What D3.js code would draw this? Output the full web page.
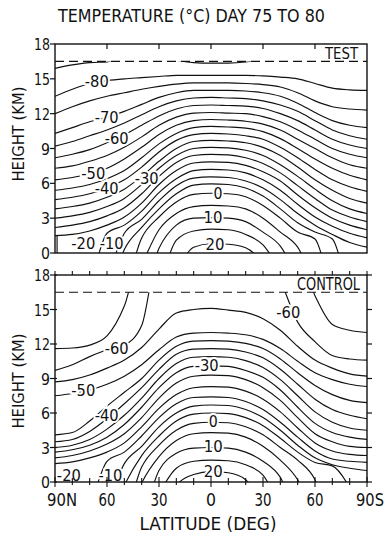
<!DOCTYPE html>
<html><head><meta charset="utf-8">
<script src="https://cdn.jsdelivr.net/npm/d3@7"></script>
<style>body{margin:0;background:#fff}svg{display:block}</style>
</head><body>
<script>
// Latitude columns, 90N (left) to 90S (right); south is negative
const latitudes = [90,80,70,60,50,40,30,20,10,0,-10,-20,-30,-40,-50,-60,-70,-80,-90];
// Isotherm levels (deg C)
const levels = [-85,-80,-75,-70,-65,-60,-55,-50,-45,-40,-35,-30,-25,-20,-15,-10,-5,0,5,10,15,20];
// Height (km) of each isotherm at each latitude
const testHeights = [
  [15.9,16.2,16.4,16.45,17.2,17.5,17,16.6,16.4,16.35,16.35,16.45,16.7,17.2,17.5,17.5,17.5,17.5,17.5],
  [13.5,14.1,14.6,14.85,15.0,15.1,15.2,15.3,15.3,15.3,15.3,15.3,15.25,15.15,15.0,14.6,14.2,14.05,14.0],
  [12.0,12.6,13.1,13.5,13.8,14.1,14.35,14.55,14.65,14.65,14.65,14.6,14.5,14.3,13.8,13.1,12.6,12.4,12.3],
  [10.3,10.8,11.3,11.7,12.2,12.8,13.4,13.8,14.0,14.0,14.0,13.95,13.8,13.5,12.9,12.1,11.4,11.0,10.8],
  [9.2,9.6,10.1,10.6,11.2,11.9,12.6,13.1,13.35,13.4,13.35,13.3,13.1,12.75,12.2,11.4,10.6,10.1,9.8],
  [8.2,8.5,8.9,9.5,10.2,11.0,11.8,12.4,12.7,12.75,12.7,12.65,12.45,12.0,11.4,10.6,9.8,9.3,9.0],
  [7.3,7.5,7.9,8.4,9.1,10.0,11.0,11.7,12.05,12.1,12.05,12.0,11.75,11.3,10.6,9.8,9.0,8.5,8.2],
  [6.3,6.5,6.85,7.3,8.1,9.1,10.2,11.0,11.4,11.5,11.45,11.35,11.1,10.6,9.8,9.0,8.2,7.6,7.3],
  [5.4,5.6,5.9,6.4,7.1,8.2,9.4,10.3,10.8,10.9,10.85,10.75,10.45,9.85,9.0,8.1,7.3,6.7,6.3],
  [4.6,4.8,5.1,5.6,6.3,7.4,8.7,9.7,10.2,10.3,10.25,10.1,9.8,9.1,8.2,7.2,6.3,5.7,5.3],
  [3.8,4.0,4.3,4.8,5.5,6.6,7.9,9.0,9.6,9.7,9.65,9.5,9.1,8.4,7.4,6.3,5.4,4.7,4.3],
  [3.0,3.2,3.5,4.0,4.7,5.9,7.3,8.4,9.0,9.1,9.05,8.85,8.4,7.6,6.6,5.5,4.5,3.8,3.4],
  [2.2,2.4,2.7,3.2,3.9,5.1,6.6,7.8,8.4,8.5,8.45,8.2,7.7,6.9,5.8,4.7,3.7,3.1,2.7],
  [1.5,1.6,1.9,2.4,3.1,4.3,5.9,7.1,7.75,7.85,7.8,7.55,7.0,6.2,5.0,3.9,3.0,2.4,2.0],
  [-4,-4,-2.5,1.7,2.4,3.6,5.2,6.4,7.1,7.2,7.15,6.9,6.3,5.4,4.2,3.1,2.3,1.7,1.3],
  [-4,-4,-4,-2,1.7,2.9,4.5,5.8,6.45,6.55,6.5,6.2,5.6,4.6,3.4,2.4,1.6,0.9,0.5],
  [-4,-4,-4,-4,0.3,2.2,3.8,5.1,5.85,5.95,5.9,5.6,4.9,3.8,2.6,1.8,1.2,-3,-4],
  [-4,-4,-4,-4,-3,1.3,3.1,4.4,5.05,5.15,5.1,4.85,4.1,3.0,1.8,1.2,-3,-4,-4],
  [-4,-4,-4,-4,-4,-1,2.0,3.4,4.0,4.1,4.05,3.8,3.0,1.8,0.5,-2.5,-4,-4,-4],
  [-4,-4,-4,-4,-4,-4,0.4,2.4,3.0,3.05,3.0,2.7,1.8,0.6,-2,-4,-4,-4,-4],
  [-4,-4,-4,-4,-4,-4,-2.5,1.1,1.9,2.05,2.0,1.6,0.7,-1.5,-4,-4,-4,-4,-4],
  [-4,-4,-4,-4,-4,-4,-4,-1.5,0.5,0.8,0.75,0.45,-1.0,-4,-4,-4,-4,-4,-4]
];
// Height (km) of each isotherm at each latitude (null: not present)
const controlHeights = [
  null, null, null, null,
  [11.6,11.65,11.9,12.7,15.3,20,20,20,20,20,20,20,20,20,20,16.2,13.7,13.2,13.0],
  [9.7,10.2,10.9,11.5,11.9,13.6,20,20,20,20,20,20,20,17.5,13.9,12.2,11.0,10.7,10.6],
  [8.7,8.9,9.3,9.9,10.6,11.7,13.3,14.7,15.0,15.1,14.95,14.75,14.2,13.2,11.8,10.6,9.9,9.4,9.2],
  [7.5,7.7,8.0,8.5,9.2,10.2,11.5,12.6,12.95,13.0,12.95,12.8,12.4,11.6,10.5,9.5,8.9,8.5,8.3],
  [4.1,4.3,5.3,6.6,7.8,9.0,10.6,11.8,12.25,12.3,12.25,12.05,11.6,10.7,9.5,8.4,7.6,7.1,6.9],
  [3.5,3.7,4.4,5.5,6.8,8.2,9.8,11.1,11.55,11.6,11.55,11.3,10.8,9.8,8.5,7.2,6.3,5.8,5.5],
  [3.0,3.2,3.7,4.6,5.8,7.3,9.0,10.3,10.85,10.9,10.85,10.55,9.95,8.9,7.5,6.1,5.2,4.7,4.5],
  [2.6,2.8,3.2,3.9,5.0,6.5,8.2,9.5,10.05,10.1,10.05,9.7,9.1,8.0,6.5,5.1,4.3,3.9,3.7],
  [2.1,2.3,2.7,3.3,4.2,5.6,7.3,8.6,9.2,9.3,9.25,8.9,8.2,7.1,5.6,4.2,3.5,3.1,3.0],
  [1.6,1.75,2.1,2.6,3.4,4.8,6.4,7.6,8.2,8.3,8.25,7.9,7.2,6.1,4.7,3.4,2.7,2.4,2.3],
  [-4,-4,-2,1.8,2.6,4.0,5.6,6.8,7.35,7.4,7.35,7.0,6.3,5.2,3.9,2.7,2.0,1.8,1.7],
  [-4,-4,-4,-2,1.6,3.1,4.8,6.0,6.6,6.7,6.65,6.3,5.6,4.5,3.2,2.1,1.5,1.2,1.0],
  [-4,-4,-4,-4,-0.3,2.3,4.0,5.3,5.9,6.0,5.95,5.6,4.9,3.8,2.6,1.7,1.4,-0.5,-4],
  [-4,-4,-4,-4,-3,1.3,3.2,4.5,5.1,5.2,5.15,4.8,4.1,3.0,1.9,0.2,-4,-4,-4],
  [-4,-4,-4,-4,-4,-0.1,2.2,3.6,4.2,4.3,4.25,3.9,3.1,1.9,0.2,-3,-4,-4,-4],
  [-4,-4,-4,-4,-4,-3,1.0,2.5,2.95,3.0,2.95,2.6,1.8,0.4,-3,-4,-4,-4,-4],
  [-4,-4,-4,-4,-4,-4,-1,1.2,1.8,1.9,1.85,1.5,0.6,-2,-4,-4,-4,-4,-4],
  [-4,-4,-4,-4,-4,-4,-4,-0.3,0.65,0.9,0.8,0.2,-2,-4,-4,-4,-4,-4,-4]
];
// small closed -20 cell at the north-pole surface (TEST)
const testPoleCell = [[88.8,0],[88.8,1.5]];
// contour labels: text, latitude, height (km)
const testLabelText = ["-80","-70","-60","-50","-40","-30","-20","-10","0","10","20"];
const testLabelLat  = [65.9,60.2,54.4,67.9,60.2,37.1,73.7,57.3,-4,-1.2,-2.3];
const testLabelZ    = [14.75,11.7,9.9,6.87,5.57,6.43,0.83,0.83,5.14,3.04,0.75];
const controlLabelText = ["-60","-60","-50","-40","-30","-20","-10","0","10","20"];
const controlLabelLat  = [54.4,-44.6,73.7,60.2,2.5,82,58,-1.3,-1.3,-1.3];
const controlLabelZ    = [11.63,14.72,7.94,5.77,10.09,0.56,0.6,5.24,3.07,0.9];
const heightTicks = [0,3,6,9,12,15,18];
const heightTickLabels = ["0","3","6","9","12","15","18"];
const latMajor = [90,60,30,0,-30,-60,-90];
const latTickLabels = ["90N","60","30","0","30","60","90S"];
const latMinor = [90,80,70,60,50,40,30,20,10,0,-10,-20,-30,-40,-50,-60,-70,-80,-90];
const dashedHeight = 16.5;

const W=389,H=538;
const FONT="DejaVu Sans";
const svg=d3.select('body').append('svg').attr('width',W).attr('height',H)
  .attr('font-family',FONT).style('background','#fff');
const x=d3.scaleLinear().domain([90,-90]).range([55,367]);

function txt(parent,s,px,py,size,len,anchor){
  const t=parent.append('text').attr('x',px).attr('y',py).attr('font-size',size)
    .attr('text-anchor',anchor||'middle').attr('fill','#111').text(s);
  if(len) t.attr('textLength',len).attr('lengthAdjust','spacingAndGlyphs');
  return t;
}

function panel(id,yr,heights,labText,labLat,labZ,name,nameX,nameLen,nameSize,extra,opts){
  const y=d3.scaleLinear().domain([0,18]).range(yr);
  const g=svg.append('g');
  const clip=svg.append('clipPath').attr('id','clip'+id);
  clip.append('rect').attr('x',x(90)).attr('y',y(dashedHeight))
    .attr('width',x(-90)-x(90)).attr('height',y(0)-y(dashedHeight));
  const line=d3.line().x((d,i)=>x(latitudes[i])).y(d=>y(d)).curve(d3.curveMonotoneX);
  const cg=g.append('g').attr('clip-path',`url(#clip${id})`);
  cg.selectAll('path.iso').data(heights.filter(h=>h)).join('path').attr('class','iso')
    .attr('d',line).attr('fill','none').attr('stroke','#111').attr('stroke-width',1.15);
  if(extra){
    cg.append('path').attr('d',d3.line().x(d=>x(d[0])).y(d=>y(d[1]))(extra))
      .attr('fill','none').attr('stroke','#111').attr('stroke-width',1.15);
  }
  // dashed line
  g.append('line').attr('x1',x(90)).attr('x2',x(-90)).attr('y1',y(dashedHeight)).attr('y2',y(dashedHeight))
    .attr('stroke','#111').attr('stroke-width',1.2).attr('stroke-dasharray','9,5');
  // contour labels
  labText.forEach((s,i)=>{
    const w = s.length===1?9:(s.length===2?19:24);
    txt(g,s,x(labLat[i]),y(labZ[i])+5.5,15,w)
      .attr('stroke','#fff').attr('stroke-width',4).attr('paint-order','stroke');
  });
  // frame
  g.append('rect').attr('x',x(90)).attr('y',y(18)).attr('width',x(-90)-x(90)).attr('height',y(0)-y(18))
    .attr('fill','none').attr('stroke','#111').attr('stroke-width',1.4);
  // left ticks + labels
  heightTicks.forEach((h,i)=>{
    g.append('line').attr('x1',x(90)-5).attr('x2',x(90)+(opts.leftIn||0)).attr('y1',y(h)).attr('y2',y(h))
      .attr('stroke','#111').attr('stroke-width',1.2);
    const s=heightTickLabels[i];
    txt(g,s,50,y(h)+6,16.5,s.length>1?16:9,'end');
    if(opts.rightTicks){
      g.append('line').attr('x1',x(-90)).attr('x2',x(-90)+5).attr('y1',y(h)).attr('y2',y(h))
        .attr('stroke','#111').attr('stroke-width',1.2);
    }
  });
  // top ticks
  if(opts.topMajorDown){
    latMajor.slice(1,-1).forEach(l=>{
      g.append('line').attr('x1',x(l)).attr('x2',x(l)).attr('y1',y(18)).attr('y2',y(18)+5)
        .attr('stroke','#111').attr('stroke-width',1.2);
    });
  }
  if(opts.topMinorUp){
    latMinor.forEach(l=>{
      g.append('line').attr('x1',x(l)).attr('x2',x(l)).attr('y1',y(18)).attr('y2',y(18)-4)
        .attr('stroke','#111').attr('stroke-width',1.1);
    });
  }
  if(opts.bottomTicks){
    latMinor.forEach(l=>{
      const major=latMajor.includes(l);
      g.append('line').attr('x1',x(l)).attr('x2',x(l)).attr('y1',y(0)-(major?5:4)).attr('y2',y(0)+(major?5:3))
        .attr('stroke','#111').attr('stroke-width',1.1);
    });
  }
  // panel name
  txt(g,name,nameX,y(dashedHeight)-2.5,nameSize,nameLen,'start');
  return y;
}

// title
txt(svg,"TEMPERATURE (°C) DAY 75 TO 80",58,22,18,267,'start');

const yT=panel('T',[253,44],testHeights,testLabelText,testLabelLat,testLabelZ,"TEST",325,33,16,testPoleCell,
  {topMajorDown:true,leftIn:0});
const yC=panel('C',[482,275],controlHeights,controlLabelText,controlLabelLat,controlLabelZ,"CONTROL",297,63,17,null,
  {topMinorUp:true,rightTicks:true,bottomTicks:true,leftIn:2});

// y-axis titles
svg.append('text').attr('transform','translate(24,134) rotate(-90)').attr('text-anchor','middle')
  .attr('font-size',15).attr('fill','#111').attr('textLength',95).attr('lengthAdjust','spacingAndGlyphs').text("HEIGHT (KM)");
svg.append('text').attr('transform','translate(24,381) rotate(-90)').attr('text-anchor','middle')
  .attr('font-size',15).attr('fill','#111').attr('textLength',95).attr('lengthAdjust','spacingAndGlyphs').text("HEIGHT (KM)");

// x tick labels
latMajor.forEach((l,i)=>{
  const s=latTickLabels[i];
  if(i===0) txt(svg,s,x(l)-8,506,18,30,'start');
  else if(i===latMajor.length-1) txt(svg,s,x(l)-11,506,17,28,'start');
  else txt(svg,s,x(l),506,18,s.length>1?17:10,'middle');
});
txt(svg,"LATITUDE (DEG)",208,530,18,137,'middle');
</script>
</body></html>
